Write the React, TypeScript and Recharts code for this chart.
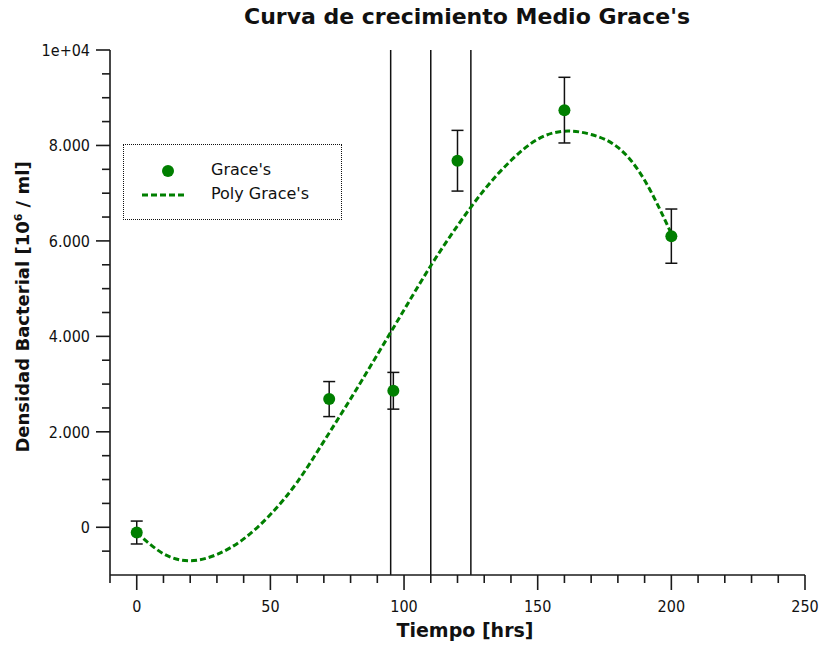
import React from "react";
import {
  ComposedChart,
  Line,
  Scatter,
  ErrorBar,
  XAxis,
  YAxis,
  ReferenceLine,
} from "recharts";

// measured points (hrs, density) with their error
const hours = [0, 72, 96, 120, 160, 200];
const density = [-110, 2686, 2860, 7680, 8740, 6100];
const densityErr = [240, 367, 385, 636, 688, 568];

// polynomial fit curve, sampled every 10 hrs
const polyHours = [0, 10, 20, 30, 40, 50, 60, 70, 80, 90, 100, 110, 120, 130, 140, 150, 160, 170, 180, 190, 200];
const polyDensity = [-110, -555, -700, -570, -244, 267, 943, 1800, 2690, 3615, 4554, 5480, 6317, 7069, 7684, 8130, 8300, 8230, 7960, 7270, 6150];

// marker lines
const markers = [95, 110, 125];

const xTicks = Array.from({ length: 27 }, (_, i) => -10 + i * 10);
const yTicks = Array.from({ length: 23 }, (_, i) => -1000 + i * 500);

const points = hours.map((h, i) => ({ x: h, y: density[i], err: densityErr[i] }));
const poly = polyHours.map((h, i) => ({ x: h, y: polyDensity[i] }));

const TICK_FONT = "'DejaVu Sans Condensed', 'DejaVu Sans', sans-serif";
const FONT = "'DejaVu Sans', sans-serif";
const GREEN = "#007f00";
const AXIS = "#1a1a1a";

const fmtY = (v: number) => (v === 10000 ? "1e+04" : v === 0 ? "0" : `${v / 1000}.000`);

const XTick = (props: any) => {
  const { x, y, payload } = props;
  const v = payload.value as number;
  const major = v % 50 === 0;
  return (
    <g>
      <line x1={x} x2={x} y1={y} y2={y + (major ? 15 : 8)} stroke={AXIS} strokeWidth={1.6} />
      {major && (
        <text x={x} y={y + 37} textAnchor="middle" fontSize={16} fontFamily={TICK_FONT} fill="#111">
          {v}
        </text>
      )}
    </g>
  );
};

const YTick = (props: any) => {
  const { x, y, payload } = props;
  const v = payload.value as number;
  const major = v % 2000 === 0;
  if (v === -1000) return <g />;
  return (
    <g>
      <line x1={x - (major ? 14 : 8)} x2={x} y1={y} y2={y} stroke={AXIS} strokeWidth={1.6} />
      {major && (
        <text x={x - 20} y={y + 6} textAnchor="end" fontSize={16} fontFamily={TICK_FONT} fill="#111">
          {fmtY(v)}
        </text>
      )}
    </g>
  );
};

const Dot = (props: any) => <circle cx={props.cx} cy={props.cy} r={6} fill={GREEN} />;

export default function App() {
  return (
    <div style={{ position: "absolute", left: 0, top: 0, width: 820, height: 649, background: "#fff", fontFamily: FONT }}>
      <ComposedChart width={820} height={649} margin={{ top: 50, right: 15, bottom: 0, left: 0 }}>
        <XAxis
          type="number"
          dataKey="x"
          domain={[-10, 250]}
          ticks={xTicks}
          interval={0}
          height={74}
          tickSize={0}
          tickMargin={0}
          tick={<XTick />}
          stroke={AXIS}
          strokeWidth={1.6}
          allowDataOverflow
        />
        <YAxis
          type="number"
          domain={[-1000, 10000]}
          ticks={yTicks}
          interval={0}
          width={110}
          tickSize={0}
          tickMargin={0}
          tick={<YTick />}
          stroke={AXIS}
          strokeWidth={1.6}
          allowDataOverflow
        />
        {markers.map((m) => (
          <ReferenceLine key={m} x={m} stroke="#111" strokeWidth={1.5} />
        ))}
        <Line
          data={poly}
          dataKey="y"
          type="natural"
          stroke={GREEN}
          strokeWidth={3}
          strokeDasharray="6 3"
          dot={false}
          activeDot={false}
          isAnimationActive={false}
        />
        <Scatter data={points} dataKey="y" fill={GREEN} shape={<Dot />} isAnimationActive={false}>
          <ErrorBar dataKey="err" direction="y" width={6} stroke="#111" strokeWidth={1.5} isAnimationActive={false} />
        </Scatter>
      </ComposedChart>

      <div style={{ position: "absolute", left: 0, width: 820, top: 4, textAlign: "center", paddingLeft: 114, boxSizing: "border-box", fontSize: 22, fontWeight: "bold", color: "#111" }}>
        Curva de crecimiento Medio Grace's
      </div>

      <div style={{ position: "absolute", left: 365, width: 200, top: 619, textAlign: "center", fontSize: 19, fontWeight: "bold", color: "#111" }}>
        Tiempo [hrs]
      </div>

      <div
        style={{
          position: "absolute",
          left: 22,
          top: 307,
          transform: "translate(-50%, -50%) rotate(-90deg)",
          whiteSpace: "nowrap",
          fontSize: 18,
          fontWeight: "bold",
          color: "#111",
        }}
      >
        Densidad Bacterial [10<sup style={{ fontSize: 11 }}>6</sup> / ml]
      </div>

      <div style={{ position: "absolute", left: 123, top: 144, width: 217, height: 74, border: "1px dotted #111", fontSize: 16, color: "#111" }}>
        <svg width={70} height={74} style={{ position: "absolute", left: 0, top: 0 }}>
          <circle cx={44} cy={26} r={6} fill={GREEN} />
          <line x1={18} x2={62} y1={50} y2={50} stroke={GREEN} strokeWidth={3} strokeDasharray="6 3" />
        </svg>
        <div style={{ position: "absolute", left: 87, top: 15 }}>Grace's</div>
        <div style={{ position: "absolute", left: 87, top: 39 }}>Poly Grace's</div>
      </div>
    </div>
  );
}
